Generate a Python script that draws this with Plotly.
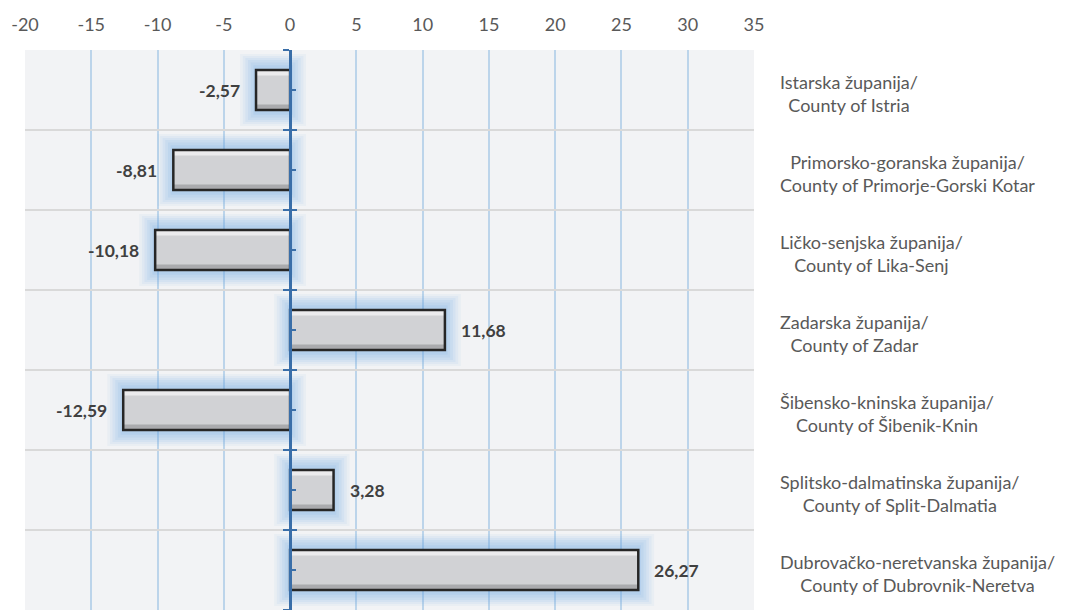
import plotly.graph_objects as go

categories = [
    "Istarska županija/<br>County of Istria",
    "Primorsko-goranska županija/<br>County of Primorje-Gorski Kotar",
    "Ličko-senjska županija/<br>County of Lika-Senj",
    "Zadarska županija/<br>County of Zadar",
    "Šibensko-kninska županija/<br>County of Šibenik-Knin",
    "Splitsko-dalmatinska županija/<br>County of Split-Dalmatia",
    "Dubrovačko-neretvanska županija/<br>County of Dubrovnik-Neretva",
]
values = [-2.57, -8.81, -10.18, 11.68, -12.59, 3.28, 26.27]
x_ticks = [-20, -15, -10, -5, 0, 5, 10, 15, 20, 25, 30, 35]

X_MIN, X_MAX = -20, 35
W, H = 1062, 602
ML, MR, MT, MB = 17, 316, 42, 0
PLOT_W = W - ML - MR

pos = list(range(len(categories)))
FONT = "Lato, Carlito, 'Open Sans', sans-serif"

fig = go.Figure()

# soft glow layers
glows = [(1.2, 0.9, 0.06), (1.0, 0.85, 0.08), (0.8, 0.8, 0.09),
         (0.6, 0.75, 0.10), (0.4, 0.69, 0.11), (0.2, 0.62, 0.13)]
for g, w, a in glows:
    fig.add_trace(go.Bar(
        y=pos,
        x=[abs(v) + 2 * g for v in values],
        base=[min(v, 0) - g for v in values],
        orientation="h", width=w,
        marker=dict(color=f"rgba(110,170,228,{a})", line=dict(width=0)),
        hoverinfo="skip", showlegend=False,
    ))

# main bar fill
fig.add_trace(go.Bar(
    y=pos, x=values, orientation="h", width=0.5,
    marker=dict(color="#d1d2d5", line=dict(width=0)),
    showlegend=False,
))
# bevel: light top strip
fig.add_trace(go.Bar(
    y=pos, x=values, orientation="h", width=0.07, offset=-0.25,
    marker=dict(color="#ebebed", line=dict(width=0)),
    hoverinfo="skip", showlegend=False,
))
# bevel: dark bottom strip
fig.add_trace(go.Bar(
    y=pos, x=values, orientation="h", width=0.07, offset=0.18,
    marker=dict(color="#aaabae", line=dict(width=0)),
    hoverinfo="skip", showlegend=False,
))
# border on top
fig.add_trace(go.Bar(
    y=pos, x=values, orientation="h", width=0.5,
    marker=dict(color="rgba(0,0,0,0)", line=dict(color="#262626", width=2.5)),
    hoverinfo="skip", showlegend=False,
))

# dummy trace for overlay axis
fig.add_trace(go.Scatter(x=[None], y=[None], yaxis="y2", showlegend=False, hoverinfo="skip"))

# data labels
for i, v in enumerate(values):
    fig.add_annotation(
        x=v, y=i, xref="x", yref="y",
        text="<b>" + f"{v:.2f}".replace(".", ",") + "</b>",
        showarrow=False,
        xanchor="right" if v < 0 else "left",
        xshift=-14 if v < 0 else 14,
        font=dict(family=FONT, size=17.5, color="#404040"),
    )

# category labels on the right
label_x = 1 + 24 / PLOT_W
for i, c in enumerate(categories):
    fig.add_annotation(
        x=label_x, y=i, xref="paper", yref="y",
        text=c, showarrow=False, xanchor="left", align="center",
        yshift=-3,
        font=dict(family=FONT, size=18, color="#595959"),
    )

zero_pos = (0 - X_MIN) / (X_MAX - X_MIN)
boundaries = [p - 0.5 for p in pos] + [pos[-1] + 0.5]

fig.update_layout(
    width=W, height=H,
    margin=dict(l=ML, r=MR, t=MT, b=MB),
    paper_bgcolor="white",
    plot_bgcolor="#f2f3f5",
    barmode="overlay",
    showlegend=False,
    xaxis=dict(
        range=[X_MIN, X_MAX], side="top",
        tickvals=x_ticks, ticktext=[str(t) for t in x_ticks],
        showgrid=True, gridcolor="#bcd4ea", gridwidth=1.5,
        zeroline=False, showline=False, ticks="",
        ticklabelstandoff=14,
        tickfont=dict(family=FONT, size=18, color="#595959"),
        fixedrange=True,
    ),
    yaxis=dict(
        range=[len(categories) - 0.5, -0.5],
        tickvals=boundaries, showticklabels=False,
        showgrid=True, gridcolor="#d9d9d9", gridwidth=2,
        zeroline=False,
        anchor="free", position=zero_pos,
        showline=True, linecolor="#3a6ea8", linewidth=2.5,
        ticks="outside", ticklen=6, tickwidth=2, tickcolor="#3a6ea8",
    ),
    yaxis2=dict(
        overlaying="y",
        range=[len(categories) - 0.5, -0.5],
        tickvals=boundaries, showticklabels=False,
        showgrid=False, zeroline=False,
        anchor="free", position=zero_pos, side="left",
        showline=False,
        ticks="inside", ticklen=6, tickwidth=2, tickcolor="#3a6ea8",
        minor=dict(tickvals=pos, ticks="inside", ticklen=5, tickwidth=1.5, tickcolor="#3a6ea8"),
    ),
)

fig.write_html("out.html")
